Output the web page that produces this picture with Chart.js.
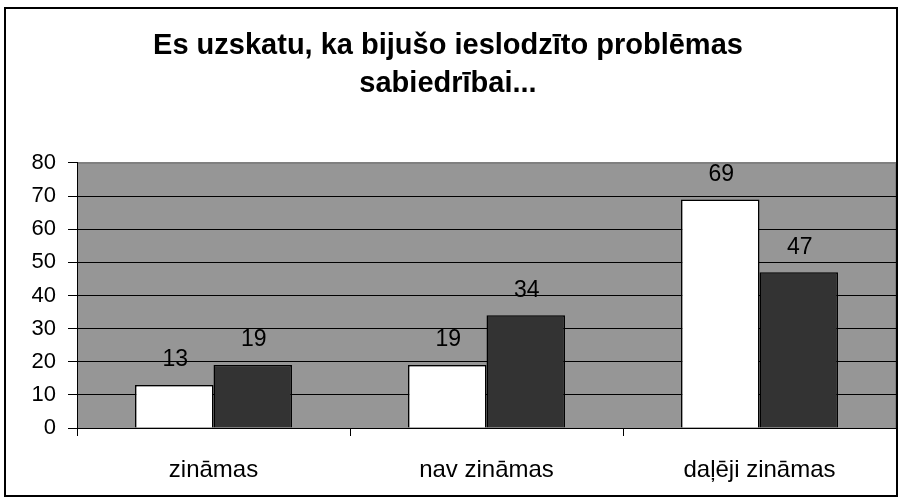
<!DOCTYPE html>
<html>
<head>
<meta charset="utf-8">
<title>Es uzskatu, ka bijušo ieslodzīto problēmas sabiedrībai...</title>
<script src="https://cdn.jsdelivr.net/npm/chart.js@4.4.0/dist/chart.umd.min.js"></script>
<style>
body { margin: 0; background: #ffffff; }
#wrap { width: 902px; height: 500px; }
</style>
</head>
<body>
<div id="wrap"><canvas id="mycanvas1" width="902" height="500"></canvas></div>
<script>
var categories = ["zināmas", "nav zināmas", "daļēji zināmas"];
var series1 = [13, 19, 69];
var series2 = [19, 34, 47];
var titleLines = ["Es uzskatu, ka bijušo ieslodzīto problēmas", "sabiedrībai..."];
var yTicks = [0, 10, 20, 30, 40, 50, 60, 70, 80];

var fontName = "'Liberation Sans', Arial, sans-serif";

// white page, gray plot area, black frame round the whole chart
var framePlugin = {
	id: 'frame',
	beforeDraw: function(chart) {
		var ctx = chart.ctx;
		var a = chart.chartArea;
		ctx.save();
		ctx.fillStyle = '#ffffff';
		ctx.fillRect(0, 0, chart.width, chart.height);
		ctx.fillStyle = '#969696';
		ctx.fillRect(a.left, a.top, a.right - a.left, a.bottom - a.top);
		ctx.strokeStyle = '#808080';
		ctx.lineWidth = 1;
		ctx.strokeRect(a.left + 0.5, a.top + 0.5, a.right - a.left - 1, a.bottom - a.top);
		ctx.strokeStyle = '#000000';
		ctx.lineWidth = 2;
		ctx.strokeRect(5, 8, chart.width - 10, chart.height - 12);
		ctx.restore();
	}
};

// value labels above the bars
var valuePlugin = {
	id: 'values',
	afterDatasetsDraw: function(chart) {
		var ctx = chart.ctx;
		ctx.save();
		ctx.font = "23px " + fontName;
		ctx.fillStyle = '#000000';
		ctx.textAlign = 'center';
		ctx.textBaseline = 'middle';
		chart.data.datasets.forEach(function(ds, i) {
			var meta = chart.getDatasetMeta(i);
			meta.data.forEach(function(bar, j) {
				ctx.fillText(ds.data[j], bar.x + 1, bar.y - 25);
			});
		});
		ctx.restore();
	}
};

var chartdata = {
	labels: categories,
	datasets: [
		{
			label: "1",
			data: series1,
			backgroundColor: "#ffffff",
			borderColor: "#000000",
			borderWidth: 1.5,
			categoryPercentage: 0.575,
			barPercentage: 1.0
		},
		{
			label: "2",
			data: series2,
			backgroundColor: "#333333",
			borderColor: "#000000",
			borderWidth: 1.5,
			categoryPercentage: 0.575,
			barPercentage: 1.0
		}
	]
};

var ctx = document.getElementById("mycanvas1");

var BarGraph = new Chart(ctx, {
	type: 'bar',
	data: chartdata,
	plugins: [framePlugin, valuePlugin],
	options: {
		responsive: false,
		animation: false,
		layout: { padding: { left: 0, right: 6, top: 0, bottom: 0 } },
		plugins: {
			legend: { display: false },
			tooltip: { enabled: false },
			title: {
				display: true,
				text: titleLines,
				color: '#000000',
				font: { family: fontName, size: 29, weight: 'bold', lineHeight: 1.31 },
				padding: { top: 27, bottom: 60 }
			}
		},
		scales: {
			x: {
				afterFit: function(scale) { scale.height = 72; },
				grid: {
					drawOnChartArea: false,
					drawTicks: true,
					tickLength: 8,
					color: '#000000',
					offset: true
				},
				border: { color: '#000000', width: 1 },
				ticks: {
					color: '#000000',
					padding: 20,
					maxRotation: 0,
					font: { family: fontName, size: 24 }
				}
			},
			y: {
				min: yTicks[0],
				max: yTicks[yTicks.length - 1],
				afterFit: function(scale) { scale.width = 77; },
				afterBuildTicks: function(scale) {
					scale.ticks = yTicks.map(function(v) { return { value: v }; });
				},
				grid: {
					color: function(c) { return c.tick && c.tick.value === 80 ? '#808080' : '#000000'; },
					tickColor: '#000000',
					tickLength: 9,
					lineWidth: 1
				},
				border: { color: '#000000', width: 1 },
				ticks: {
					color: '#000000',
					padding: 12,
					font: { family: fontName, size: 22 }
				}
			}
		}
	}
});
</script>
</body>
</html>
